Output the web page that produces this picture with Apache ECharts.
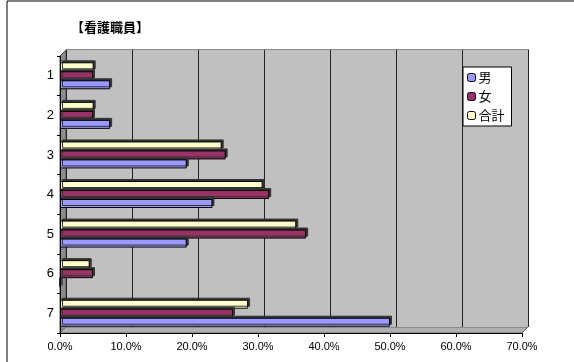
<!DOCTYPE html>
<html>
<head>
<meta charset="utf-8">
<script src="https://cdn.jsdelivr.net/npm/echarts@6/dist/echarts.min.js"></script>
<style>
  html, body { margin: 0; padding: 0; background: #fff; }
  #chart { width: 574px; height: 362px; }
</style>
</head>
<body>
<div id="chart"></div>
<script>
// カテゴリと各系列の値（%）
const categories = ['1', '2', '3', '4', '5', '6', '7'];
const maleValues = [7.6, 7.6, 19.2, 23.1, 19.2, 0.0, 50.0];
const femaleValues = [5.0, 5.0, 25.1, 31.7, 37.3, 5.0, 26.2];
const totalValues = [5.1, 5.1, 24.5, 30.7, 35.8, 4.5, 28.5];
const seriesNames = ['男', '女', '合計'];
const seriesColors = ['#9999FF', '#993366', '#FFFFCC'];

const chart = echarts.init(document.getElementById('chart'));

const font = '"Noto Sans CJK JP", "DejaVu Sans", sans-serif';

// 棒の立体感はシャドウで表現
const makeBar = (name, data, color) => ({
  name: name,
  type: 'bar',
  xAxisIndex: 1,
  yAxisIndex: 1,
  data: data,
  barWidth: 9,
  barGap: '0%',
  itemStyle: {
    color: color,
    borderColor: '#000',
    borderWidth: 1,
    shadowColor: '#333',
    shadowOffsetX: 2,
    shadowOffsetY: -2,
    shadowBlur: 0
  }
});

chart.setOption({
  animation: false,
  textStyle: { fontFamily: font },
  title: {
    text: '【看護職員】',
    left: 66,
    top: 16,
    textStyle: { fontSize: 13, fontWeight: 'bold', color: '#000', fontFamily: font }
  },
  legend: {
    orient: 'vertical',
    left: 463,
    top: 67,
    itemWidth: 8,
    itemHeight: 8,
    itemGap: 6,
    padding: [4, 7, 4, 4],
    backgroundColor: '#fff',
    borderColor: '#000',
    borderWidth: 1,
    borderRadius: 0,
    data: seriesNames,
    itemStyle: { borderColor: '#000', borderWidth: 1, shadowBlur: 0, shadowOffsetX: 0, shadowOffsetY: 0 },
    textStyle: { fontSize: 13, color: '#000', padding: [0, 0, 0, -2] }
  },
  grid: [
    // 奥の壁
    { left: 66, right: 46, top: 50, bottom: 35, show: true, backgroundColor: '#C0C0C0', borderWidth: 0 },
    // 手前の棒
    { left: 60, right: 52, top: 56, bottom: 29 }
  ],
  xAxis: [
    {
      gridIndex: 0, type: 'value', min: 0, max: 70, interval: 10,
      axisLine: { show: false }, axisTick: { show: false }, axisLabel: { show: false },
      splitLine: { show: true, lineStyle: { color: '#222', width: 1 } }
    },
    {
      gridIndex: 1, type: 'value', min: 0, max: 70, interval: 10,
      axisLine: { show: true, lineStyle: { color: '#000', width: 1 } },
      axisTick: { show: true, length: 4, lineStyle: { color: '#000' } },
      splitLine: { show: false },
      axisLabel: {
        color: '#000', fontSize: 11, margin: 8, fontFamily: '"Liberation Sans", sans-serif',
        formatter: v => v.toFixed(1) + '%'
      }
    }
  ],
  yAxis: [
    { gridIndex: 0, type: 'category', data: categories, show: false },
    {
      gridIndex: 1, type: 'category', data: categories, inverse: true,
      axisLine: { show: true, lineStyle: { color: '#000', width: 1 } },
      axisTick: { show: true, length: 3, lineStyle: { color: '#000' } },
      axisLabel: { color: '#000', fontSize: 13, margin: 6, fontFamily: '"Liberation Sans", sans-serif' }
    }
  ],
  graphic: [
    // 外枠
    { type: 'rect', shape: { x: 7, y: 1, width: 580, height: 380 }, style: { fill: 'none', stroke: '#000', lineWidth: 1 }, z: -10 },
    // 左の壁
    { type: 'polygon', shape: { points: [[60, 56], [66, 50], [66, 327], [60, 333]] }, style: { fill: '#8C8C8C', stroke: '#555', lineWidth: 1 }, z: -1 },
    // 床
    { type: 'polygon', shape: { points: [[60, 333], [66, 327], [528, 327], [522, 333]] }, style: { fill: '#B0B0B0', stroke: '#666', lineWidth: 1 }, z: -1 },
    // 奥の壁の縁
    { type: 'polyline', shape: { points: [[66, 50], [528, 50], [528, 327]] }, style: { stroke: '#888', lineWidth: 2, fill: 'none' }, z: -1 }
  ],
  // 各カテゴリ内で上から 合計・女・男 の順に並べる
  series: [
    makeBar(seriesNames[2], totalValues, seriesColors[2]),
    makeBar(seriesNames[1], femaleValues, seriesColors[1]),
    makeBar(seriesNames[0], maleValues, seriesColors[0])
  ]
});
</script>
</body>
</html>
